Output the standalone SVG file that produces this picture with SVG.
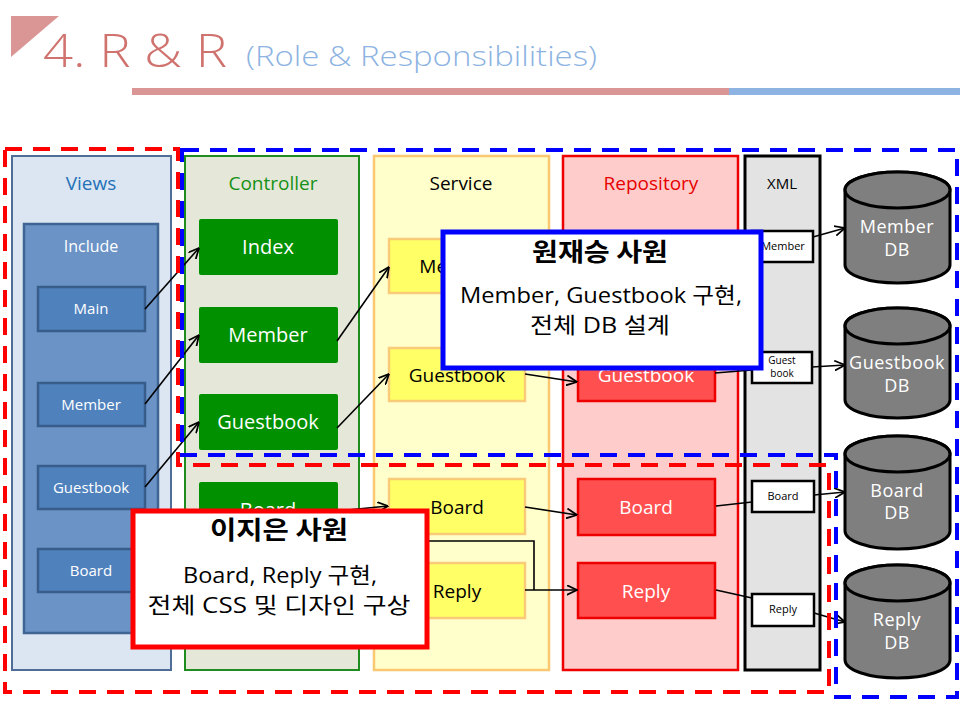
<svg xmlns="http://www.w3.org/2000/svg" width="960" height="720" viewBox="0 0 960 720">
<defs>
<marker id="arr" viewBox="0 0 10 10" refX="9.5" refY="5" markerWidth="11" markerHeight="11" markerUnits="userSpaceOnUse" orient="auto">
<path d="M0,0.5 L9.5,5 L0,9.5" fill="none" stroke="#000" stroke-width="1.6"/>
</marker>
<style>
text{font-family:"Open Sans","Noto Sans CJK KR",sans-serif;text-anchor:middle}
.ko{font-family:"Noto Sans CJK KR","Open Sans",sans-serif}
.col{stroke-width:2}
.view{fill:#4f81bd;stroke:#385d8a;stroke-width:2.5}
.vt{fill:#fff;font-size:15px}
.ctl{fill:#009000}
.ct{fill:#fff;font-size:20px}
.svc{fill:#ffff66;stroke:#f9cb78;stroke-width:2.5}
.st{fill:#000;font-size:19px}
.rep{fill:#ff4f4f;stroke:#ee0000;stroke-width:2.5}
.rt{fill:#fff;font-size:19px}
.xb{fill:#fff;stroke:#000;stroke-width:2.5}
.xt{fill:#000;font-size:11px}
.xs{fill:#000;font-size:10px}
.db{fill:#7f7f7f;stroke:#000;stroke-width:3}
.dt{fill:#fff;font-size:18px;letter-spacing:0.5px}
.conn line,.conn polyline{stroke:#000;stroke-width:1.6;fill:none}
.dash{fill:none;stroke-width:4;stroke-dasharray:17 11}
.h{font-size:25px;font-weight:bold}
.b{font-size:22px}
</style>
</defs>
<rect width="960" height="720" fill="#fff"/>

<!-- Title -->
<g id="title">
<polygon points="11,16 59,16 11,57" fill="#d99694"/>
<text x="43" y="67" style="text-anchor:start;font-size:46px;font-weight:300" fill="#d0736f" textLength="184" lengthAdjust="spacingAndGlyphs">4. R &amp; R</text>
<text x="246" y="66" style="text-anchor:start;font-size:27px;font-weight:300" fill="#8db3e2" textLength="351" lengthAdjust="spacingAndGlyphs">(Role &amp; Responsibilities)</text>
<rect x="132" y="88" width="597" height="7" fill="#d99694"/>
<rect x="729" y="88" width="231" height="7" fill="#8db3e2"/>
</g>

<!-- Columns -->
<g id="col-views">
<rect x="12" y="156" width="159" height="514" fill="#dce6f2" stroke="#4f6d96" class="col"/>
<text x="91" y="190" fill="#2471b8" style="font-size:19px">Views</text>
</g>
<g id="col-include">
<rect x="24" y="224" width="134" height="409" fill="#6b93c6" stroke="#3f6594" stroke-width="2.5"/>
<text x="91" y="252" fill="#fff" style="font-size:16px">Include</text>
</g>
<g id="col-controller">
<rect x="185" y="156" width="174" height="514" fill="#e5e8d9" stroke="#1e8c1e" class="col"/>
<text x="273" y="190" fill="#169016" style="font-size:19px">Controller</text>
</g>
<g id="col-service">
<rect x="374" y="156" width="175" height="514" fill="#ffffcc" stroke="#fac870" stroke-width="2.5"/>
<text x="461" y="190" fill="#000" style="font-size:19px">Service</text>
</g>
<g id="col-repository">
<rect x="563" y="156" width="175" height="514" fill="#ffcccc" stroke="#ee0000" stroke-width="2.5"/>
<text x="651" y="190" fill="#e60000" style="font-size:19px">Repository</text>
</g>
<g id="col-xml">
<rect x="745" y="156" width="75" height="514" fill="#e3e3e3" stroke="#000" stroke-width="3"/>
<text x="782" y="189" fill="#000" style="font-size:15px">XML</text>
</g>

<!-- Views nodes -->
<g id="v-main"><rect x="38" y="287" width="107" height="44" class="view"/><text x="91" y="314" class="vt">Main</text></g>
<g id="v-member"><rect x="38" y="383" width="107" height="43" class="view"/><text x="91" y="410" class="vt">Member</text></g>
<g id="v-guestbook"><rect x="38" y="466" width="107" height="43" class="view"/><text x="91" y="493" class="vt">Guestbook</text></g>
<g id="v-board"><rect x="38" y="549" width="107" height="43" class="view"/><text x="91" y="576" class="vt">Board</text></g>

<!-- Controller nodes -->
<g id="c-index"><rect x="199" y="219" width="139" height="56" rx="2" class="ctl"/><text x="268" y="254" class="ct">Index</text></g>
<g id="c-member"><rect x="199" y="307" width="139" height="56" rx="2" class="ctl"/><text x="268" y="342" class="ct">Member</text></g>
<g id="c-guestbook"><rect x="199" y="394" width="139" height="56" rx="2" class="ctl"/><text x="268" y="429" class="ct">Guestbook</text></g>
<g id="c-board"><rect x="199" y="482" width="139" height="56" rx="2" class="ctl"/><text x="268" y="517" class="ct">Board</text></g>

<!-- Service nodes -->
<g id="s-member"><rect x="389" y="239" width="136" height="54" class="svc"/><text x="457" y="273" class="st">Member</text></g>
<g id="s-guestbook"><rect x="389" y="348" width="136" height="53" class="svc"/><text x="457" y="382" class="st">Guestbook</text></g>
<g id="s-board"><rect x="389" y="479" width="136" height="55" class="svc"/><text x="457" y="514" class="st">Board</text></g>
<g id="s-reply"><rect x="389" y="563" width="136" height="55" class="svc"/><text x="457" y="598" class="st">Reply</text></g>

<!-- Repository nodes -->
<g id="r-guestbook"><rect x="578" y="346" width="137" height="55" class="rep"/><text x="646" y="382" class="rt">Guestbook</text></g>
<g id="r-board"><rect x="578" y="479" width="137" height="56" class="rep"/><text x="646" y="514" class="rt">Board</text></g>
<g id="r-reply"><rect x="578" y="563" width="137" height="55" class="rep"/><text x="646" y="598" class="rt">Reply</text></g>

<!-- XML nodes -->
<g id="x-member"><rect x="752" y="231" width="61" height="31" class="xb"/><text x="783" y="250" class="xt">Member</text></g>
<g id="x-guestbook"><rect x="752" y="352" width="60" height="31" class="xb"/><text x="782" y="364" class="xs">Guest</text><text x="782" y="377" class="xs">book</text></g>
<g id="x-board"><rect x="752" y="481" width="62" height="31" class="xb"/><text x="783" y="500" class="xt">Board</text></g>
<g id="x-reply"><rect x="752" y="594" width="62" height="32" class="xb"/><text x="783" y="613" class="xt">Reply</text></g>

<!-- DB nodes -->
<g id="db-member">
<path d="M845,190 A52.5,18 0 0 1 950,190 V265 A52.5,18 0 0 1 845,265 Z" class="db"/>
<ellipse cx="897.5" cy="190" rx="52.5" ry="18" class="db"/>
<text x="897" y="233" class="dt">Member</text><text x="897" y="256" class="dt">DB</text>
</g>
<g id="db-guestbook">
<path d="M845,326 A52.5,18 0 0 1 950,326 V400 A52.5,18 0 0 1 845,400 Z" class="db"/>
<ellipse cx="897.5" cy="326" rx="52.5" ry="18" class="db"/>
<text x="897" y="369" class="dt">Guestbook</text><text x="897" y="392" class="dt">DB</text>
</g>
<g id="db-board">
<path d="M845,454 A52.5,18 0 0 1 950,454 V531 A52.5,18 0 0 1 845,531 Z" class="db"/>
<ellipse cx="897.5" cy="454" rx="52.5" ry="18" class="db"/>
<text x="897" y="497" class="dt">Board</text><text x="897" y="519" class="dt">DB</text>
</g>
<g id="db-reply">
<path d="M845,583 A52.5,18 0 0 1 950,583 V660 A52.5,18 0 0 1 845,660 Z" class="db"/>
<ellipse cx="897.5" cy="583" rx="52.5" ry="18" class="db"/>
<text x="897" y="626" class="dt">Reply</text><text x="897" y="649" class="dt">DB</text>
</g>

<!-- Connectors -->
<g id="connectors" class="conn">
<line x1="145" y1="309" x2="199" y2="248" marker-end="url(#arr)"/>
<line x1="145" y1="404" x2="199" y2="335" marker-end="url(#arr)"/>
<line x1="145" y1="487" x2="199" y2="422" marker-end="url(#arr)"/>
<line x1="337" y1="341" x2="389" y2="267" marker-end="url(#arr)"/>
<line x1="337" y1="428" x2="389" y2="374" marker-end="url(#arr)"/>
<line x1="338" y1="511" x2="388" y2="506" marker-end="url(#arr)"/>
<line x1="525" y1="374" x2="577" y2="382" marker-end="url(#arr)"/>
<line x1="525" y1="507" x2="577" y2="515" marker-end="url(#arr)"/>
<line x1="525" y1="590" x2="577" y2="590" marker-end="url(#arr)"/>
<polyline points="338,541 534,541 534,590"/>
<line x1="715" y1="373" x2="752" y2="370"/>
<line x1="716" y1="506" x2="752" y2="502"/>
<line x1="716" y1="590" x2="752" y2="598"/>
<line x1="813" y1="237" x2="845" y2="228" marker-end="url(#arr)"/>
<line x1="812" y1="367" x2="845" y2="365" marker-end="url(#arr)"/>
<line x1="814" y1="495" x2="845" y2="492" marker-end="url(#arr)"/>
<line x1="814" y1="613" x2="845" y2="622" marker-end="url(#arr)"/>
</g>

<!-- Dashed areas -->
<g id="area-blue"><path d="M182,150 H957 V697 H836 V455 H182 Z" class="dash" stroke="#0000ff"/></g>
<g id="area-red"><path d="M5,149 H178 V465 H829 V692 H5 Z" class="dash" stroke="#ff0000"/></g>

<!-- Callouts -->
<g id="callout-won">
<rect x="443" y="232" width="318" height="136" fill="#fff" stroke="#0000ff" stroke-width="5"/>
<text x="600" y="261" class="ko h" textLength="136" lengthAdjust="spacingAndGlyphs">원재승 사원</text>
<text x="601" y="303" class="b" textLength="282" lengthAdjust="spacingAndGlyphs">Member, Guestbook 구현,</text>
<text x="600" y="333" class="b" textLength="140" lengthAdjust="spacingAndGlyphs">전체 DB 설계</text>
</g>
<g id="callout-lee">
<rect x="133" y="511" width="294" height="136" fill="#fff" stroke="#ff0000" stroke-width="5"/>
<text x="279" y="539" class="ko h" textLength="138" lengthAdjust="spacingAndGlyphs">이지은 사원</text>
<text x="280" y="583" class="b" textLength="194" lengthAdjust="spacingAndGlyphs">Board, Reply 구현,</text>
<text x="279" y="613" class="b" textLength="263" lengthAdjust="spacingAndGlyphs">전체 CSS 및 디자인 구상</text>
</g>
</svg>
